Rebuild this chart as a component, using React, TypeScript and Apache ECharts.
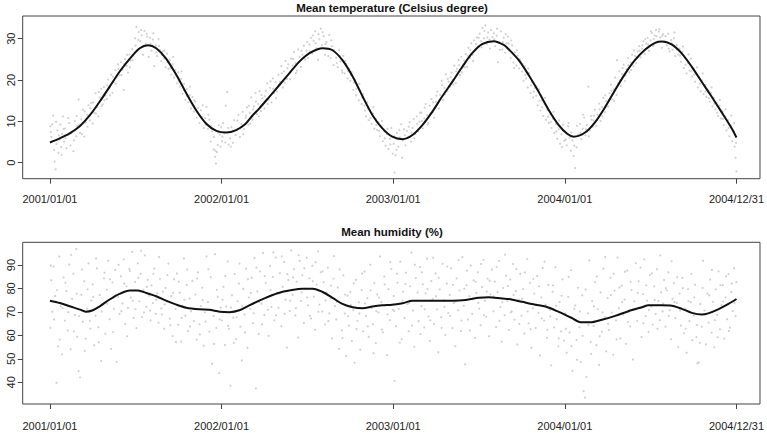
import React, { useEffect, useRef } from 'react';
import * as echarts from 'echarts';

// ---------- axis ticks ----------
const tickDays = [0, 365, 730, 1095, 1460];
const tickLabels = ['2001/01/01', '2002/01/01', '2003/01/01', '2004/01/01', '2004/12/31'];
const tempTicks = [0, 10, 20, 30];
const humTicks = [40, 50, 60, 70, 80, 90];
const titles = ['Mean temperature (Celsius degree)', 'Mean humidity (%)'];

// ---------- smooth curves [day, value] ----------
const tempCurve = [
  [0, 4.9], [21, 5.9], [42, 7.1], [64, 8.9], [85, 11.5], [106, 14.8], [127, 18.4], [148, 22.0],
  [170, 25.2], [191, 27.7], [209, 28.4], [226, 27.7], [247, 25.2], [269, 21.2], [290, 16.8],
  [311, 12.7], [332, 9.5], [354, 7.7], [375, 7.3], [396, 7.9], [415, 9.3], [430, 11.3], [445, 13.1],
  [467, 16.0], [488, 18.8], [509, 21.6], [530, 24.4], [552, 26.5], [580, 27.7], [601, 27.2],
  [622, 24.8], [644, 20.8], [665, 16.0], [686, 11.5], [707, 8.3], [728, 6.3], [750, 5.7],
  [771, 6.7], [792, 9.1], [813, 12.3], [834, 16.0], [856, 19.6], [877, 23.2], [898, 26.5],
  [919, 28.7], [944, 29.4], [965, 28.5], [976, 27.4], [997, 24.8], [1018, 21.2], [1039, 17.2],
  [1061, 12.7], [1082, 9.1], [1100, 7.0], [1114, 6.3], [1138, 7.3], [1160, 9.9], [1181, 13.5],
  [1202, 17.6], [1223, 21.5], [1244, 24.8], [1266, 27.4], [1287, 29.0], [1302, 29.3],
  [1322, 28.6], [1343, 26.5], [1365, 23.2], [1386, 19.6], [1407, 16.0], [1428, 12.3],
  [1450, 8.3], [1460, 6.1],
];

const humCurve = [
  [0, 74.8], [21, 73.8], [42, 72.4], [64, 71.0], [76, 70.1], [90, 70.6], [106, 72.4], [127, 75.3],
  [148, 77.7], [170, 79.1], [187, 79.1], [205, 78.1], [226, 76.7], [247, 74.8], [269, 73.1],
  [290, 71.8], [318, 71.1], [339, 70.9], [361, 70.1], [382, 69.9], [403, 70.7], [424, 72.8],
  [445, 74.8], [467, 76.7], [488, 78.2], [509, 79.1], [537, 79.9], [559, 79.9], [580, 78.5],
  [601, 76.0], [622, 73.4], [644, 72.0], [665, 71.6], [686, 72.3], [707, 72.8], [728, 73.1],
  [750, 73.7], [771, 74.8], [799, 74.8], [827, 74.8], [856, 74.8], [884, 75.1], [912, 76.0],
  [933, 76.3], [962, 75.7], [976, 75.5], [1004, 74.3], [1032, 73.1], [1054, 72.3], [1082, 70.0],
  [1110, 67.4], [1128, 65.6], [1149, 65.6], [1174, 66.7], [1202, 68.3], [1230, 70.3],
  [1259, 72.0], [1273, 72.8], [1301, 72.8], [1319, 72.7], [1344, 71.3], [1365, 69.6],
  [1386, 68.9], [1400, 69.4], [1421, 71.1], [1443, 73.4], [1460, 75.5],
];

const tempPoints = [
  [1,8.8],[3,6.2],[5,9.3],[7,11.4],[9,3.1],[10,0.3],[12,-1.6],[14,4.5],[16,7.8],[18,2.4],[20,5.6],[22,9.2],[24,3.8],[26,6.9],[28,11.2],[30,5.1],
  [32,8.3],[35,3.5],[38,6.8],[41,9.6],[44,4.2],[47,7.5],[50,2.8],[53,10.1],[56,6.4],[58,8.9],
  [61,15.3],[64,7.2],[67,10.5],[70,12.8],[73,6.3],[76,9.8],[79,11.6],[82,13.9],[85,10.2],[88,14.4],
  [91,9.5],[94,12.1],[97,16.8],[100,13.4],[103,11.2],[106,15.8],[109,17.9],[112,14.1],[115,18.3],[118,16.2],
  [121,15.4],[124,20.1],[127,18.2],[130,21.3],[133,16.9],[136,19.5],[139,22.4],[142,20.6],[145,23.8],[148,21.1],
  [151,24.3],[154,22.5],[157,17.6],[160,25.1],[163,23.4],[166,21.8],[169,26.2],[172,24.7],[175,27.5],[178,25.9],
  [181,30.1],[184,32.8],[186,27.2],[189,31.6],[192,29.4],[195,30.8],[198,26.1],[201,31.9],[204,28.7],[207,30.5],[210,25.6],
  [213,30.2],[216,27.1],[219,29.8],[222,23.4],[225,28.4],[228,25.8],[231,29.9],[234,27.3],[237,24.6],[240,26.9],
  [243,25.2],[246,23.1],[249,26.4],[252,22.7],[255,24.9],[258,21.3],[261,23.8],[264,20.6],[267,22.4],[270,19.2],
  [273,21.9],[276,18.4],[279,20.3],[282,16.7],[285,19.1],[288,15.2],[291,17.8],[294,14.6],[297,16.3],[300,13.1],[303,15.9],
  [306,12.4],[309,14.8],[312,10.9],[315,13.2],[318,9.6],[321,12.7],[324,11.1],[327,8.4],[330,10.8],[333,13.5],
  [336,8.2],[339,10.4],[342,5.1],[345,7.6],[348,3.2],[351,1.4],[353,-0.2],[355,2.6],[357,4.3],[359,9.1],[361,6.8],[363,3.9],
  [366,5.2],[368,9.6],[371,7.1],[374,13.8],[377,17.1],[380,4.4],[383,5.9],[386,8.6],[389,4.8],[392,10.3],[395,6.7],
  [398,7.9],[401,11.6],[404,6.2],[407,9.4],[410,12.3],[413,8.1],[416,10.9],[419,13.4],[422,9.2],
  [425,12.1],[428,15.8],[431,10.4],[434,13.6],[437,16.9],[440,11.8],[443,14.2],[446,17.3],[449,12.5],[452,15.6],
  [456,13.1],[459,17.4],[462,19.2],[465,15.3],[468,18.1],[471,14.6],[474,20.4],[477,16.8],[480,19.5],[483,17.2],
  [486,21.3],[489,19.6],[492,23.4],[495,18.2],[498,22.1],[501,24.6],[504,20.3],[507,23.8],[510,21.7],[513,25.2],
  [516,23.5],[519,26.8],[522,24.1],[525,22.3],[528,27.4],[531,25.6],[534,23.2],[537,26.1],[540,28.3],[543,24.9],
  [546,27.1],[549,25.3],[552,28.6],[555,30.2],[558,26.4],[561,29.5],[564,31.8],[567,27.7],[570,24.9],[573,29.9],[576,32.4],
  [579,28.4],[582,30.6],[585,26.1],[588,29.2],[591,27.5],[594,30.9],[597,25.3],[600,28.2],[603,23.6],[606,26.8],
  [609,25.4],[612,23.1],[615,27.2],[618,24.5],[621,22.3],[624,25.8],[627,21.6],[630,23.9],[633,20.4],[636,22.7],
  [639,19.8],[642,21.9],[645,17.6],[648,20.2],[651,16.3],[654,18.9],[657,15.1],[660,17.4],[663,14.2],[666,16.6],
  [669,13.8],[672,11.2],[675,14.6],[678,10.3],[681,12.7],[684,9.4],[687,11.9],[690,8.2],[693,10.6],[696,7.9],
  [699,9.8],[702,6.4],[705,8.7],[708,5.2],[711,7.6],[714,4.1],[717,6.9],[720,3.3],[723,5.8],[726,8.4],[729,2.2],
  [731,4.6],[733,-2.4],[735,1.8],[738,7.2],[741,3.9],[744,6.1],[747,9.3],[750,5.4],[753,8.1],[756,4.2],[759,7.7],
  [762,6.3],[765,9.8],[768,5.1],[771,8.4],[774,10.6],[777,6.9],[780,11.2],[783,7.6],[786,9.9],
  [790,12.1],[793,8.3],[796,10.7],[799,14.2],[802,11.5],[805,9.6],[808,13.8],[811,15.4],[814,12.2],[817,10.9],
  [821,14.7],[824,17.2],[827,13.1],[830,16.4],[833,19.8],[836,15.2],[839,18.1],[842,21.4],[845,17.3],[848,19.6],
  [851,18.4],[854,21.8],[857,20.1],[860,23.5],[863,19.3],[866,22.7],[869,24.8],[872,21.2],[875,25.6],[878,23.1],
  [881,24.7],[884,26.3],[887,23.2],[890,27.8],[893,25.4],[896,28.9],[899,26.1],[902,29.6],[905,27.2],[908,30.3],
  [911,28.1],[914,31.2],[917,29.4],[920,32.6],[923,30.1],[926,33.2],[929,28.7],[932,31.5],[935,29.8],[938,32.1],[941,30.4],
  [944,31.3],[947,28.2],[950,30.7],[953,24.3],[956,29.1],[959,31.8],[962,27.4],[965,30.2],[968,26.6],[971,28.9],
  [974,30.5],[977,27.1],[980,25.3],[983,28.4],[986,24.2],[989,26.7],[992,23.5],[995,25.9],[998,22.8],[1001,24.6],
  [1004,22.1],[1007,19.8],[1010,23.3],[1013,20.4],[1016,18.2],[1019,21.7],[1022,16.9],[1025,19.5],[1028,15.8],[1031,18.1],
  [1034,16.2],[1037,13.9],[1040,17.8],[1043,12.6],[1046,15.1],[1049,11.3],[1052,14.2],[1055,10.4],[1058,12.8],[1061,9.6],
  [1064,11.7],[1067,8.4],[1070,10.6],[1073,7.2],[1076,9.3],[1079,5.8],[1082,8.1],[1085,4.6],[1088,6.9],[1091,9.2],[1094,5.3],
  [1096,7.4],[1099,4.2],[1102,8.8],[1105,6.1],[1108,2.9],[1111,5.4],[1114,1.6],[1117,-1.3],[1120,3.7],[1123,6.8],
  [1127,9.4],[1130,5.7],[1133,8.2],[1136,10.9],[1139,6.6],[1142,9.1],[1145,18.4],[1148,7.8],[1151,11.3],[1154,8.7],
  [1156,10.2],[1159,12.8],[1162,8.9],[1165,11.6],[1168,14.3],[1171,10.1],[1174,13.4],[1177,15.7],[1180,12.2],[1183,14.9],
  [1187,13.6],[1190,16.8],[1193,18.9],[1196,15.3],[1199,17.7],[1202,20.6],[1205,16.4],[1208,19.2],[1211,22.1],[1214,18.5],
  [1217,21.4],[1220,23.7],[1223,19.8],[1226,22.6],[1229,25.3],[1232,21.9],[1235,24.2],[1238,26.1],[1241,23.4],[1244,25.8],
  [1247,24.1],[1250,26.9],[1253,28.2],[1256,25.5],[1259,27.6],[1262,29.4],[1265,26.3],[1268,28.8],[1271,30.2],[1274,27.1],
  [1277,29.6],[1280,31.4],[1283,28.3],[1286,30.8],[1289,32.1],[1292,29.2],[1295,31.7],[1298,30.3],[1301,27.8],[1304,31.1],[1307,29.5],
  [1309,30.6],[1312,28.4],[1315,31.2],[1318,26.9],[1321,29.7],[1324,27.3],[1327,30.1],[1330,25.8],[1333,28.5],[1336,26.2],
  [1339,27.6],[1342,24.4],[1345,26.8],[1348,22.9],[1351,25.3],[1354,21.6],[1357,24.1],[1360,22.3],[1363,25.2],[1366,20.8],
  [1369,22.8],[1372,19.6],[1375,21.4],[1378,18.2],[1381,20.7],[1384,17.3],[1387,19.9],[1390,16.6],[1393,18.8],[1396,15.9],
  [1400,17.4],[1403,14.8],[1406,16.9],[1409,13.6],[1412,15.7],[1415,12.9],[1418,14.5],[1421,11.3],[1424,13.8],[1427,10.7],
  [1430,12.4],[1433,9.1],[1436,11.2],[1439,7.8],[1442,10.3],[1445,6.4],[1448,8.9],[1451,5.2],[1454,7.6],[1456,3.9],[1458,1.2],[1460,-2.1],
];

const tempPointsExtra = [
  [2,7.4],[6,5.3],[13,9.9],[19,6.6],[25,1.9],[29,8.1],[33,5.9],[39,10.8],[45,7.1],[51,5.4],[57,11.3],
  [62,9.1],[68,6.9],[74,12.4],[80,8.7],[86,13.2],[92,14.6],[98,11.9],[104,17.1],[110,13.7],[116,15.1],
  [122,18.7],[128,16.3],[134,20.8],[140,19.1],[146,22.7],[152,21.2],[158,23.9],[164,26.1],[170,23.1],[176,24.8],
  [182,28.3],[188,29.7],[194,32.1],[200,28.1],[206,31.2],[214,28.8],[220,31.3],[226,26.7],[232,28.2],[238,26.1],
  [244,27.1],[250,24.3],[256,22.9],[262,25.6],[268,21.1],[274,19.7],[280,22.1],[286,17.4],[292,16.2],[298,18.4],
  [307,15.1],[313,12.2],[319,11.4],[325,13.9],[331,9.2],[337,11.6],[343,8.8],[349,6.2],[352,2.9],[358,7.3],[364,8.6],
  [367,6.3],[373,4.9],[379,8.4],[385,3.9],[391,7.6],[399,10.2],[405,8.6],[411,6.9],[417,11.4],[423,13.8],
  [426,9.4],[432,12.9],[438,14.8],[444,11.2],[450,16.4],[457,16.1],[463,14.2],[469,19.7],[475,17.9],[481,15.6],
  [487,18.9],[493,21.6],[499,19.4],[505,22.9],[511,20.2],[517,25.1],[523,21.7],[529,24.4],[535,27.1],[541,25.3],
  [547,29.2],[553,26.9],[559,30.8],[565,28.9],[571,31.1],[580,31.6],[586,28.7],[592,25.8],[598,29.6],[604,27.3],
  [610,24.1],[616,25.9],[622,21.8],[628,24.6],[634,22.1],[640,21.3],[646,19.4],[652,17.9],[658,19.1],[664,15.8],
  [670,12.6],[676,13.1],[682,10.8],[688,13.4],[694,9.1],[700,7.7],[706,10.1],[712,5.9],[718,8.2],[724,4.4],
  [732,6.4],[737,3.1],[743,7.9],[749,1.2],[755,6.6],[763,8.7],[769,7.3],[775,5.9],[781,9.4],[787,12.1],
  [791,10.1],[797,13.3],[803,9.2],[809,11.9],[815,14.6],[822,16.2],[828,15.1],[834,18.7],[840,16.6],[846,20.3],
  [852,20.7],[858,18.9],[864,22.1],[870,23.6],[876,21.9],[882,23.1],[888,25.9],[894,27.3],[900,24.6],[906,28.7],
  [912,30.2],[918,27.9],[924,31.9],[930,30.3],[936,27.6],[945,29.9],[951,32.4],[957,27.3],[963,29.2],[969,31.1],
  [975,28.8],[981,29.6],[987,22.9],[993,27.2],[999,25.1],[1005,23.9],[1011,21.2],[1017,22.8],[1023,18.7],[1029,17.2],
  [1035,18.4],[1041,14.9],[1047,13.4],[1053,15.7],[1059,11.1],[1065,9.9],[1071,12.3],[1077,7.6],[1083,10.2],[1089,3.8],
  [1097,5.6],[1103,9.6],[1109,7.3],[1115,4.1],[1121,8.9],[1128,7.2],[1134,11.6],[1140,8.1],[1146,6.4],[1152,10.4],
  [1157,11.4],[1163,10.3],[1169,12.9],[1175,11.2],[1181,16.3],[1188,15.2],[1194,17.4],[1200,14.9],[1206,24.8],[1212,19.9],
  [1218,22.9],[1224,21.1],[1230,23.6],[1236,22.4],[1242,27.2],[1248,25.6],[1254,27.1],[1260,28.4],[1266,29.9],[1272,28.6],
  [1278,31.8],[1284,29.9],[1290,30.6],[1296,32.3],[1302,30.7],[1310,29.1],[1316,27.6],[1322,28.9],[1328,31.5],[1334,27.4],
  [1340,25.9],[1346,28.1],[1352,23.7],[1358,26.2],[1364,22.1],[1370,21.3],[1376,23.1],[1382,19.1],[1388,21.6],[1394,17.2],
  [1401,15.6],[1407,18.2],[1413,14.3],[1419,12.1],[1425,15.2],[1431,10.6],[1437,12.9],[1443,8.4],[1449,11.4],[1455,9.6],[1459,4.8],
];

const humPoints = [
  [1,63.2],[3,83.5],[5,70.1],[8,89.4],[11,76.8],[14,39.8],[17,55.3],[20,93.6],[23,72.4],[26,51.9],[29,84.7],
  [32,66.3],[35,78.9],[38,62.1],[41,90.2],[44,54.1],[47,75.6],[50,86.3],[53,68.7],[56,96.8],[58,59.4],
  [61,44.8],[64,42.1],[67,77.3],[70,65.8],[73,83.1],[76,58.6],[79,71.4],[82,90.7],[85,66.2],[88,74.9],
  [91,81.7],[94,55.8],[97,68.4],[100,88.6],[103,63.5],[106,77.2],[109,49.1],[112,72.8],[115,84.3],[118,60.7],
  [121,79.5],[124,91.8],[127,66.9],[130,54.2],[133,82.6],[136,71.3],[139,87.9],[142,48.7],[145,76.4],[148,69.1],
  [151,85.2],[154,73.6],[157,92.4],[160,64.8],[163,80.9],[166,71.7],[169,88.3],[172,76.1],[175,95.6],[178,67.4],
  [181,82.8],[184,63.1],[187,90.7],[190,74.5],[193,86.2],[196,67.8],[199,79.4],[202,94.1],[205,72.2],[208,83.7],[211,76.9],
  [213,70.6],[216,81.3],[219,73.8],[222,88.5],[225,69.2],[228,77.9],[231,65.4],[234,84.1],[237,71.5],[240,78.6],
  [243,62.8],[246,80.2],[249,74.3],[252,90.6],[255,67.1],[258,76.8],[261,59.7],[264,83.9],[267,71.2],[270,86.4],
  [273,64.5],[276,78.2],[279,57.3],[282,72.6],[285,92.8],[288,68.4],[291,81.5],[294,61.9],[297,75.7],[300,70.3],[303,83.2],
  [306,66.1],[309,77.4],[312,58.2],[315,86.9],[318,64.7],[321,72.5],[324,80.3],[327,55.6],[330,69.8],[333,93.7],
  [336,74.2],[339,61.6],[342,84.8],[345,47.9],[348,68.3],[351,94.6],[354,63.2],[357,76.5],[360,43.9],[363,71.8],
  [366,66.4],[369,80.7],[372,55.9],[375,72.3],[378,91.5],[381,62.8],[384,38.6],[387,77.1],[390,67.5],[393,86.2],
  [396,58.4],[399,74.6],[402,82.1],[405,63.7],[408,49.3],[411,79.8],[414,68.9],[417,88.4],[420,54.7],[423,76.2],
  [426,71.3],[429,84.6],[432,65.2],[435,92.9],[438,37.4],[441,78.8],[444,60.6],[447,87.3],[450,73.5],[453,95.1],
  [456,68.7],[459,82.4],[462,76.3],[465,59.8],[468,89.6],[471,72.1],[474,84.9],[477,66.4],[480,93.2],[483,78.1],
  [486,71.8],[489,86.5],[492,63.9],[495,80.7],[498,91.3],[501,75.2],[504,54.8],[507,83.6],[510,70.4],[513,96.2],
  [516,77.3],[519,88.2],[522,68.5],[525,82.9],[528,59.1],[531,91.8],[534,74.6],[537,85.7],[540,65.3],[543,79.9],
  [546,93.1],[549,72.8],[552,84.3],[555,67.2],[558,89.7],[561,76.5],[564,62.4],[567,81.6],[570,95.8],[573,73.1],[576,86.9],
  [579,70.2],[582,82.7],[585,64.6],[588,78.3],[591,88.9],[594,69.4],[597,75.8],[600,58.7],[603,84.2],[606,72.5],
  [609,66.8],[612,80.4],[615,54.3],[618,73.7],[621,62.1],[624,85.6],[627,69.3],[630,51.2],[633,76.9],[636,64.2],
  [639,78.5],[642,57.6],[645,70.8],[648,48.4],[651,83.7],[654,66.2],[657,74.1],[660,53.9],[663,79.3],[666,61.7],
  [669,87.2],[672,68.3],[675,75.9],[678,59.4],[681,90.1],[684,71.6],[687,64.8],[690,82.3],[693,56.7],[696,77.4],
  [699,69.8],[702,93.6],[705,74.2],[708,61.3],[711,85.1],[714,72.9],[717,51.6],[720,79.7],[723,66.5],[726,88.3],[729,70.9],
  [731,76.8],[733,40.6],[736,63.9],[739,82.5],[742,71.2],[745,91.4],[748,58.3],[751,78.6],[754,67.4],[757,86.7],[760,73.3],
  [763,61.8],[766,80.9],[769,95.3],[772,70.6],[775,55.2],[778,84.4],[781,74.7],[784,66.1],[787,89.2],
  [790,72.5],[793,81.8],[796,63.4],[799,77.9],[802,92.7],[805,68.1],[808,57.6],[811,83.2],[814,75.4],[817,64.9],
  [820,86.4],[823,71.1],[826,52.8],[829,79.6],[832,67.7],[835,90.5],[838,74.9],[841,60.2],[844,82.1],[847,69.5],
  [850,77.2],[853,88.6],[856,63.1],[859,73.8],[862,55.4],[865,84.3],[868,70.7],[871,79.2],[874,61.9],[877,93.4],
  [880,72.6],[883,47.7],[886,81.4],[889,66.8],[892,76.7],[895,89.8],[898,69.2],[901,83.5],[904,58.9],[907,78.1],
  [910,86.9],[913,71.4],[916,64.3],[919,80.6],[922,92.2],[925,74.8],[928,67.9],[931,84.2],[934,59.6],[937,77.5],[940,88.1],
  [943,70.3],[946,82.9],[949,63.6],[952,78.4],[955,91.7],[958,72.1],[961,57.3],[964,80.2],[967,68.6],[970,85.4],
  [973,74.6],[976,62.3],[979,83.8],[982,70.2],[985,90.4],[988,66.7],[991,78.9],[994,56.1],[997,75.3],[1000,86.2],
  [1003,68.4],[1006,79.7],[1009,60.8],[1012,73.9],[1015,92.6],[1018,65.1],[1021,82.4],[1024,54.7],[1027,71.6],[1030,77.8],
  [1033,63.2],[1036,85.3],[1039,69.6],[1042,51.4],[1045,76.2],[1048,88.7],[1051,66.3],[1054,73.1],[1057,58.9],[1060,81.5],
  [1063,70.8],[1066,47.2],[1069,78.6],[1072,63.4],[1075,89.1],[1078,66.9],[1081,55.3],[1084,74.2],[1087,61.7],[1090,83.9],[1093,57.8],
  [1096,69.3],[1099,52.6],[1102,76.4],[1105,61.2],[1108,87.8],[1111,44.9],[1114,66.7],[1117,72.8],[1120,58.1],[1123,80.3],
  [1126,63.5],[1129,48.6],[1132,77.1],[1135,36.2],[1138,33.5],[1141,42.3],[1144,69.4],[1147,91.9],[1150,57.2],[1153,74.6],
  [1156,64.1],[1159,82.7],[1162,55.8],[1165,71.2],[1168,47.4],[1171,78.3],[1174,61.6],[1177,88.4],[1180,67.8],[1183,53.2],
  [1186,75.9],[1189,62.3],[1192,84.6],[1195,69.7],[1198,51.8],[1201,79.1],[1204,66.4],[1207,93.2],[1210,71.6],[1213,58.7],
  [1216,81.2],[1219,68.9],[1222,75.3],[1225,56.4],[1228,87.6],[1231,70.1],[1234,63.8],[1237,79.4],[1240,49.7],[1243,74.5],[1246,90.8],
  [1249,66.2],[1252,83.1],[1255,71.9],[1258,59.3],[1261,77.6],[1264,92.4],[1267,68.2],[1270,74.8],[1273,61.5],[1276,85.7],
  [1279,72.3],[1282,64.6],[1285,80.9],[1288,69.1],[1291,88.2],[1294,74.7],[1297,66.5],[1300,78.4],[1303,70.2],[1306,83.6],
  [1309,63.7],[1312,79.2],[1315,86.9],[1318,70.8],[1321,58.4],[1324,75.6],[1327,82.3],[1330,67.4],[1333,73.9],[1336,55.1],
  [1339,77.8],[1342,64.2],[1345,84.5],[1348,60.9],[1351,71.3],[1354,52.6],[1357,79.7],[1360,66.1],[1363,74.2],[1366,57.9],
  [1369,68.5],[1372,81.6],[1375,59.3],[1377,48.1],[1380,48.5],[1383,73.4],[1386,63.7],[1389,91.8],[1392,70.6],[1395,56.2],[1398,77.9],
  [1401,65.4],[1404,83.8],[1407,61.1],[1410,74.3],[1413,54.9],[1416,79.6],[1419,68.7],[1422,87.3],[1425,62.6],[1428,72.9],
  [1431,81.4],[1434,58.6],[1437,76.2],[1440,66.9],[1443,86.1],[1446,63.3],[1449,78.5],[1452,70.4],[1455,88.6],[1458,68.2],[1460,82.7],
];

const humPointsExtra = [
  [2,89.7],[9,66.8],[15,79.3],[21,58.2],[27,71.6],[33,82.4],[39,69.9],[45,94.3],[51,61.7],[57,77.8],
  [62,68.2],[68,88.1],[74,53.4],[80,79.6],[86,62.9],[92,76.4],[98,92.8],[104,57.1],[110,70.2],[116,86.7],
  [122,73.5],[128,83.9],[134,61.4],[140,77.1],[146,90.1],[152,70.3],[158,82.1],[164,59.6],[170,87.4],[176,74.8],
  [182,71.2],[188,84.6],[194,96.1],[200,69.8],[206,80.7],[214,66.4],[220,86.2],[226,75.1],[232,93.4],[238,68.9],
  [244,73.2],[250,85.7],[256,64.3],[262,78.1],[268,57.2],[274,82.9],[280,67.4],[286,75.2],[292,88.1],[298,63.8],
  [307,71.3],[313,84.2],[319,60.4],[325,75.1],[331,65.9],[337,88.2],[343,70.7],[349,56.3],[355,79.4],[361,66.8],
  [367,75.2],[373,85.3],[379,64.1],[385,71.9],[391,56.8],[397,67.8],[403,90.6],[409,72.4],[415,61.2],[421,83.9],
  [427,78.1],[433,69.4],[439,88.9],[445,74.2],[451,64.7],[457,85.3],[463,70.9],[469,79.3],[475,95.4],[481,68.6],
  [487,77.9],[493,93.7],[499,69.2],[505,86.1],[511,74.8],[517,84.7],[523,71.6],[529,94.2],[535,78.3],[541,88.6],
  [547,76.2],[553,68.4],[559,83.1],[565,91.2],[571,70.1],[580,87.3],[586,74.9],[592,66.1],[598,81.2],[604,93.8],
  [610,74.3],[616,88.1],[622,58.8],[628,77.4],[634,68.2],[640,72.9],[646,82.2],[652,62.7],[658,69.3],[664,86.4],
  [670,73.6],[676,63.8],[682,79.2],[688,52.4],[694,70.3],[700,76.1],[706,62.5],[712,81.7],[718,68.9],[724,91.2],
  [732,70.4],[738,86.3],[744,56.9],[750,74.8],[756,81.9],[764,73.8],[770,64.2],[776,90.1],[782,78.3],[788,60.5],
  [791,86.9],[797,71.1],[803,79.8],[809,66.4],[815,93.1],[821,76.7],[827,84.6],[833,63.2],[839,72.2],[845,89.3],
  [851,68.3],[857,81.5],[863,74.4],[869,92.1],[875,66.3],[881,79.9],[887,87.6],[893,62.1],[899,75.4],[905,82.8],
  [911,73.8],[917,90.4],[923,68.6],[929,78.7],[935,83.3],[944,76.6],[950,89.2],[956,66.2],[962,74.1],[968,94.4],
  [974,81.1],[980,69.8],[986,77.2],[992,88.3],[998,64.9],[1004,75.6],[1010,86.8],[1016,70.2],[1022,62.6],[1028,84.1],
  [1034,73.2],[1040,80.9],[1046,67.2],[1052,91.4],[1058,62.4],[1064,68.1],[1070,81.3],[1076,72.6],[1082,58.7],[1088,76.9],
  [1097,62.8],[1103,84.9],[1109,55.4],[1115,71.3],[1121,49.6],[1127,70.2],[1133,59.8],[1139,79.6],[1145,64.4],[1151,52.1],
  [1157,72.4],[1163,85.1],[1169,59.6],[1175,69.8],[1181,93.4],[1187,64.9],[1193,77.2],[1199,86.3],[1205,58.3],[1211,80.4],
  [1217,74.2],[1223,87.1],[1229,65.7],[1235,82.8],[1241,71.4],[1250,78.1],[1256,88.9],[1262,65.2],[1268,81.3],[1274,70.9],
  [1280,86.4],[1286,75.1],[1292,62.8],[1298,94.1],[1304,73.6],[1310,80.1],[1316,68.3],[1322,91.6],[1328,74.2],[1334,84.8],
  [1340,70.6],[1346,80.1],[1352,62.9],[1358,74.6],[1364,86.2],[1370,76.2],[1376,64.4],[1382,56.8],[1388,80.2],[1394,68.9],
  [1402,77.1],[1408,87.9],[1414,66.5],[1420,59.2],[1426,81.4],[1432,74.4],[1438,85.2],[1444,61.9],[1450,82.1],[1456,73.7],
];

const FONT = '"Liberation Sans", Arial, Helvetica, sans-serif';
const X_MIN = -57.9;
const X_MAX = 1510;
const AXIS_COLOR = '#444';
const TEXT_COLOR = '#222';
const POINT_COLOR = '#c6c6c6';

function makeX(gridIndex: number, margin: number) {
  return {
    type: 'value', gridIndex, min: X_MIN, max: X_MAX, position: 'bottom',
    axisLine: { show: false, onZero: false },
    axisTick: { show: true, customValues: tickDays, length: 5, lineStyle: { color: AXIS_COLOR, width: 1 } },
    axisLabel: {
      customValues: tickDays, fontSize: 11, color: TEXT_COLOR, fontFamily: FONT, margin,
      formatter: (v: number) => tickLabels[tickDays.indexOf(Math.round(v))] ?? '',
    },
    splitLine: { show: false },
  };
}

function makeY(gridIndex: number, min: number, max: number, ticks: number[]) {
  return {
    type: 'value', gridIndex, min, max, position: 'left',
    axisLine: { show: false, onZero: false },
    axisTick: { show: true, customValues: ticks, length: 5, lineStyle: { color: AXIS_COLOR, width: 1 } },
    axisLabel: { customValues: ticks, rotate: 90, fontSize: 11, color: TEXT_COLOR, fontFamily: FONT, margin: 6 },
    splitLine: { show: false },
  };
}

export default function App() {
  const ref = useRef<HTMLDivElement>(null);
  useEffect(() => {
    const chart = echarts.init(ref.current!, null, { renderer: 'svg', width: 767, height: 433 });
    chart.setOption({
      animation: false,
      backgroundColor: '#ffffff',
      grid: [
        { left: 22.7, top: 16, width: 739.3, height: 162.7, show: true, borderColor: AXIS_COLOR, borderWidth: 1, backgroundColor: 'transparent' },
        { left: 22.7, top: 242.3, width: 739.3, height: 161.7, show: true, borderColor: AXIS_COLOR, borderWidth: 1, backgroundColor: 'transparent' },
      ],
      xAxis: [makeX(0, 15), makeX(1, 16)],
      yAxis: [makeY(0, -3.87, 35.49, tempTicks), makeY(1, 30.75, 99.68, humTicks)],
      graphic: [
        { type: 'text', x: 392, y: 7.5, style: { text: titles[0], fill: '#111', font: `bold 11.5px ${FONT}`, textAlign: 'center', textVerticalAlign: 'middle' } },
        { type: 'text', x: 392, y: 232, style: { text: titles[1], fill: '#111', font: `bold 11.5px ${FONT}`, textAlign: 'center', textVerticalAlign: 'middle' } },
      ],
      series: [
        { type: 'scatter', xAxisIndex: 0, yAxisIndex: 0, data: tempPoints.concat(tempPointsExtra), symbolSize: 2.2, itemStyle: { color: POINT_COLOR }, silent: true },
        { type: 'line', xAxisIndex: 0, yAxisIndex: 0, data: tempCurve, smooth: 0.3, showSymbol: false, lineStyle: { color: '#111', width: 2 }, silent: true },
        { type: 'scatter', xAxisIndex: 1, yAxisIndex: 1, data: humPoints.concat(humPointsExtra), symbolSize: 2.2, itemStyle: { color: POINT_COLOR }, silent: true },
        { type: 'line', xAxisIndex: 1, yAxisIndex: 1, data: humCurve, smooth: 0.3, showSymbol: false, lineStyle: { color: '#111', width: 2 }, silent: true },
      ],
    });
    return () => chart.dispose();
  }, []);
  return <div ref={ref} style={{ position: 'fixed', left: 0, top: 0, width: 767, height: 433, background: '#fff' }} />;
}
